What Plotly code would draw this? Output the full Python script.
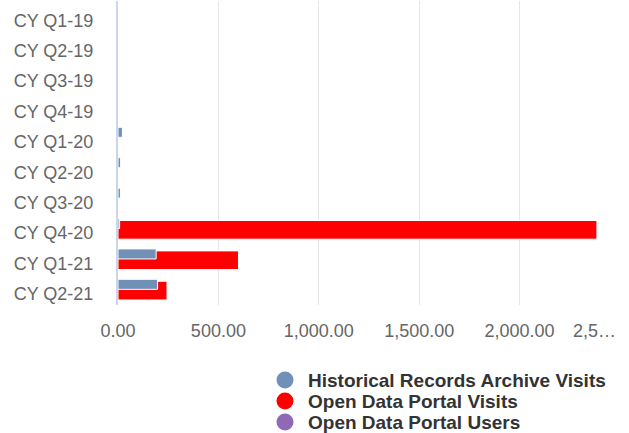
import plotly.graph_objects as go

# Quarterly categories (top to bottom)
categories = ["CY Q1-19", "CY Q2-19", "CY Q3-19", "CY Q4-19", "CY Q1-20",
              "CY Q2-20", "CY Q3-20", "CY Q4-20", "CY Q1-21", "CY Q2-21"]

# Series values
archive_visits = [0, 0, 0, 0, 22, 13, 12, 8, 190, 197]
portal_visits = [0, 0, 0, 0, 0, 0, 0, 2385, 600, 244]
portal_users = [0, 0, 0, 0, 0, 0, 0, 0, 0, 0]

# Value-axis ticks
tick_vals = [0, 500, 1000, 1500, 2000]
tick_text = ["0.00", "500.00", "1,000.00", "1,500.00", "2,000.00"]
last_tick_val = 2500
last_tick_text = "2,5…"

series_names = ["Historical Records Archive Visits", "Open Data Portal Visits",
                "Open Data Portal Users"]
colors = ["#7090b8", "#ff0000", "#9069b6"]

# Plot-area geometry in pixels (used to place the legend block)
W, H = 629, 433
ML, MR, MT, MB = 118, 9, 1, 128
PW, PH = W - ML - MR, H - MT - MB


def px_to_paper_x(px):
    return (px - ML) / PW


def px_to_paper_y(py):
    return (H - MB - py) / PH


fig = go.Figure()

# Bars: red drawn first, blue overlaid on the upper part of each slot
fig.add_trace(go.Bar(
    y=categories, x=portal_users, orientation="h", name=series_names[2],
    marker=dict(color=colors[2], line=dict(color="white", width=1)),
    offset=0.0, width=0.33, hoverinfo="x+name"))
fig.add_trace(go.Bar(
    y=categories, x=portal_visits, orientation="h", name=series_names[1],
    marker=dict(color=colors[1], line=dict(color="white", width=1)),
    offset=-0.28, width=0.615, hoverinfo="x+name"))
fig.add_trace(go.Bar(
    y=categories, x=archive_visits, orientation="h", name=series_names[0],
    marker=dict(color=colors[0], line=dict(color="white", width=1)),
    offset=-0.345, width=0.33, hoverinfo="x+name"))

# Legend block: round symbols with bold labels, stacked below the chart
shapes = []
annotations = []
legend_rows = [380, 401, 422]
for name, col, row in zip(series_names, colors, legend_rows):
    shapes.append(dict(
        type="circle", xref="paper", yref="paper",
        xsizemode="pixel", ysizemode="pixel",
        xanchor=px_to_paper_x(285), yanchor=px_to_paper_y(row),
        x0=-8.5, x1=8.5, y0=-8.5, y1=8.5,
        fillcolor=col, line=dict(width=0)))
    annotations.append(dict(
        x=px_to_paper_x(306), y=px_to_paper_y(row), xref="paper", yref="paper",
        text=name, showarrow=False, xanchor="left", yanchor="middle",
        font=dict(size=19, color="#333333",
                  family="Liberation Sans, Arial, sans-serif", weight="bold")))

# Last value-axis label, pulled left so it stays inside the canvas
annotations.append(dict(
    x=last_tick_val, xref="x", y=0, yref="paper", text=last_tick_text,
    showarrow=False, xanchor="right", yanchor="top", xshift=-2, yshift=-14,
    font=dict(size=18, color="#666666")))

fig.update_layout(
    width=W, height=H,
    margin=dict(l=ML, r=MR, t=MT, b=MB, autoexpand=False),
    paper_bgcolor="white", plot_bgcolor="white",
    barmode="overlay", showlegend=False,
    font=dict(family="Liberation Sans, Arial, sans-serif", color="#666666"),
    xaxis=dict(
        range=[0, 2500], tickvals=tick_vals + [last_tick_val],
        ticktext=tick_text + [""],
        showgrid=True, gridcolor="#e6e6e6", gridwidth=1,
        zeroline=False, showline=False, ticks="",
        tickfont=dict(size=18, color="#666666"),
        ticklabelstandoff=13, fixedrange=True),
    yaxis=dict(
        categoryorder="array", categoryarray=categories,
        autorange="reversed", showgrid=False, zeroline=False,
        showline=True, linecolor="#ccd6eb", linewidth=2, ticks="",
        tickfont=dict(size=18, color="#666666"),
        ticklabelstandoff=19, ticklabelshift=-4, fixedrange=True),
    shapes=shapes,
    annotations=annotations,
)

fig.write_html("out.html")
